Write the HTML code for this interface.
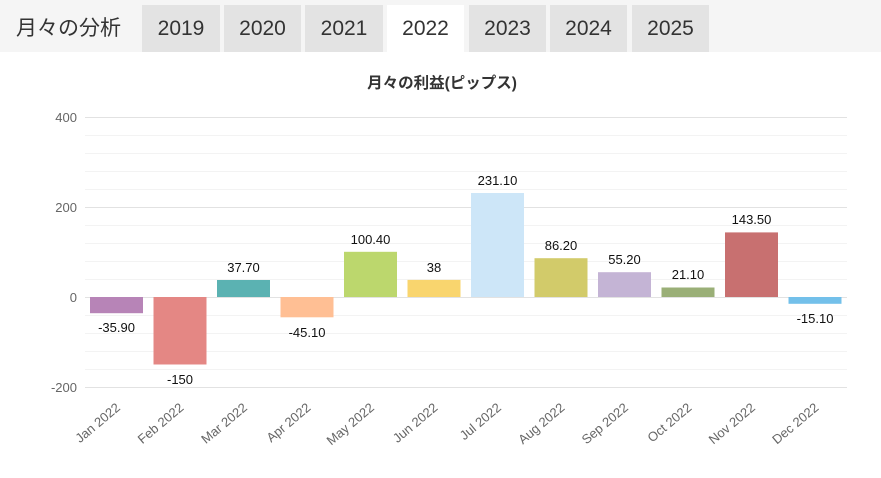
<!DOCTYPE html>
<html><head><meta charset="utf-8"><style>
body{margin:0;width:881px;height:478px;background:#fff;overflow:hidden;font-family:"Liberation Sans","Noto Sans CJK JP",sans-serif}
.hdr{position:absolute;left:0;top:0;width:881px;height:52px;background:#f5f5f5}
.t{position:absolute;top:5px;height:47px;background:#e3e3e3;color:#333;font-size:21px;line-height:47px;text-align:center}
</style></head><body>
<div class="hdr"></div>
<div style="position:absolute;left:16px;top:5px;line-height:47px;font-size:21px;color:#333">月々の分析</div>
<div class="t" style="left:142px;width:78px">2019</div>
<div class="t" style="left:224px;width:77px">2020</div>
<div class="t" style="left:305px;width:78px">2021</div>
<div class="t" style="left:387px;width:77px;background:#fff">2022</div>
<div class="t" style="left:469px;width:77px">2023</div>
<div class="t" style="left:550px;width:77px">2024</div>
<div class="t" style="left:632px;width:77px">2025</div>
<svg style="position:absolute;left:0;top:0" width="881" height="478" font-family="Liberation Sans, Noto Sans CJK JP, sans-serif">
<text x="442" y="88" text-anchor="middle" font-size="15.5" font-weight="bold" fill="#333">月々の利益(ピップス)</text>
<g stroke="#f3f3f3" stroke-width="1">
<line x1="85" x2="847" y1="135.5" y2="135.5"/><line x1="85" x2="847" y1="153.5" y2="153.5"/><line x1="85" x2="847" y1="171.5" y2="171.5"/><line x1="85" x2="847" y1="189.5" y2="189.5"/><line x1="85" x2="847" y1="225.5" y2="225.5"/><line x1="85" x2="847" y1="243.5" y2="243.5"/><line x1="85" x2="847" y1="261.5" y2="261.5"/><line x1="85" x2="847" y1="279.5" y2="279.5"/><line x1="85" x2="847" y1="315.5" y2="315.5"/><line x1="85" x2="847" y1="333.5" y2="333.5"/><line x1="85" x2="847" y1="351.5" y2="351.5"/><line x1="85" x2="847" y1="369.5" y2="369.5"/>
</g>
<g stroke="#e2e2e2" stroke-width="1">
<line x1="85" x2="847" y1="117.5" y2="117.5"/><line x1="85" x2="847" y1="207.5" y2="207.5"/><line x1="85" x2="847" y1="297.5" y2="297.5"/><line x1="85" x2="847" y1="387.5" y2="387.5"/>
</g>
<g font-size="13" fill="#666" text-anchor="end">
<text x="77" y="122">400</text><text x="77" y="212">200</text><text x="77" y="302">0</text><text x="77" y="392">-200</text>
</g>
<g>
<rect x="90" y="297" width="53" height="16.2" fill="#b784b7"/>
<rect x="153.5" y="297" width="53" height="67.5" fill="#e48784"/>
<rect x="217" y="280" width="53" height="17" fill="#5bb2b2"/>
<rect x="280.5" y="297" width="53" height="20.3" fill="#ffbf94"/>
<rect x="344" y="251.8" width="53" height="45.2" fill="#bcd76d"/>
<rect x="407.5" y="279.9" width="53" height="17.1" fill="#f9d56e"/>
<rect x="471" y="193" width="53" height="104" fill="#cde6f8"/>
<rect x="534.5" y="258.2" width="53" height="38.8" fill="#d2cb6a"/>
<rect x="598" y="272.2" width="53" height="24.8" fill="#c4b4d5"/>
<rect x="661.5" y="287.5" width="53" height="9.5" fill="#9aaf77"/>
<rect x="725" y="232.4" width="53" height="64.6" fill="#c87070"/>
<rect x="788.5" y="297" width="53" height="6.8" fill="#73c0ea"/>
</g>
<g font-size="13" fill="#111" text-anchor="middle">
<text x="116.5" y="332">-35.90</text>
<text x="180" y="384">-150</text>
<text x="243.5" y="272">37.70</text>
<text x="307" y="337">-45.10</text>
<text x="370.5" y="244">100.40</text>
<text x="434" y="272">38</text>
<text x="497.5" y="185">231.10</text>
<text x="561" y="250">86.20</text>
<text x="624.5" y="264">55.20</text>
<text x="688" y="279">21.10</text>
<text x="751.5" y="224">143.50</text>
<text x="815" y="323">-15.10</text>
</g>
<g font-size="13" fill="#666" text-anchor="end">
<text transform="translate(121,409) rotate(-40)">Jan 2022</text>
<text transform="translate(184.5,409) rotate(-40)">Feb 2022</text>
<text transform="translate(248,409) rotate(-40)">Mar 2022</text>
<text transform="translate(311.5,409) rotate(-40)">Apr 2022</text>
<text transform="translate(375,409) rotate(-40)">May 2022</text>
<text transform="translate(438.5,409) rotate(-40)">Jun 2022</text>
<text transform="translate(502,409) rotate(-40)">Jul 2022</text>
<text transform="translate(565.5,409) rotate(-40)">Aug 2022</text>
<text transform="translate(629,409) rotate(-40)">Sep 2022</text>
<text transform="translate(692.5,409) rotate(-40)">Oct 2022</text>
<text transform="translate(756,409) rotate(-40)">Nov 2022</text>
<text transform="translate(819.5,409) rotate(-40)">Dec 2022</text>
</g>
</svg>
</body></html>
